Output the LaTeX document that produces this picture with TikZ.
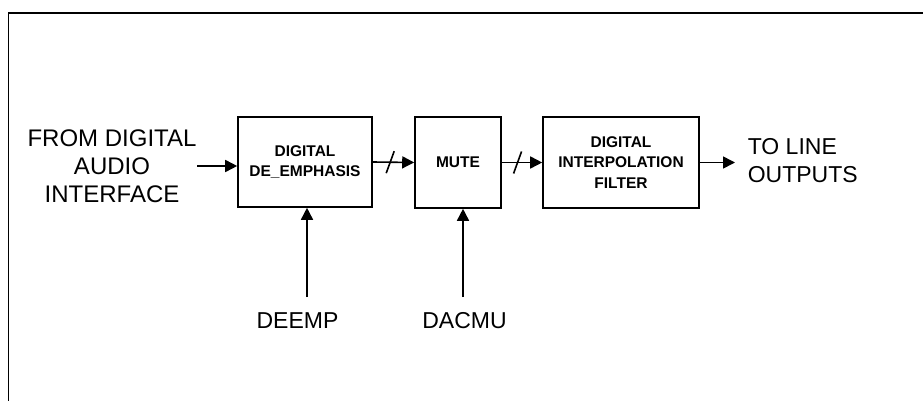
\documentclass[tikz,border=0pt]{standalone}
\usepackage{fontspec}
\setmainfont{Liberation Sans}
\usetikzlibrary{arrows.meta,calc}
\begin{document}
\begin{tikzpicture}[x=1pt,y=-1pt,
  line width=1.6pt,
  arr/.style={-{Triangle[length=12pt,width=12pt]}},
  blk/.style={draw,line width=1.6pt,align=center,inner sep=0pt,font=\fontsize{15.5}{20.5}\selectfont\bfseries},
  big/.style={inner sep=0pt,font=\fontsize{23}{28}\selectfont}]
\useasboundingbox (0,0) rectangle (923,401);
% frame
\draw[line width=1.7pt] (8.5,401) -- (8.5,13) -- (923,13);
% blocks
\node[blk,minimum width=134pt,minimum height=90pt] (b1) at (305,162) {DIGITAL\\DE\_EMPHASIS};
\node[blk,minimum width=86pt,minimum height=91pt] (b2) at (458,162.5) {MUTE};
\node[blk,minimum width=156pt,minimum height=91pt] (b3) at (621,162.5) {DIGITAL\\INTERPOLATION\\FILTER};
% outer labels
\node[big,align=center,font=\fontsize{24}{28}\selectfont] (in) at (112,166) {FROM DIGITAL\\AUDIO\\INTERFACE};
\node[big,align=left,anchor=west] (out) at (747,161) {TO LINE\\OUTPUTS};
\node[big] (deemp) at (297.5,321) {DEEMP};
\node[big] (dacmu) at (464.5,321) {DACMU};
\coordinate (d1) at (307,297);
\coordinate (d2) at (463,297);
% connectors
\draw[arr] (in.east) -- (in.east -| b1.west);
\draw[arr] (b1.east) -- (b2.west);
\draw[arr] (b2.east) -- (b3.west);
\draw[arr,shorten >=12pt] (b3.east) -- (b3.east -| out.west);
\draw[arr] (d1) -- (d1 |- b1.south);
\draw[arr] (d2) -- (d2 |- b2.south);
% bus slashes
\draw ($(b1.east)!0.42!(b2.west)$) +(-4,11) -- +(4,-11);
\draw ($(b2.east)!0.39!(b3.west)$) +(-4,11) -- +(4,-11);
\end{tikzpicture}
\end{document}
